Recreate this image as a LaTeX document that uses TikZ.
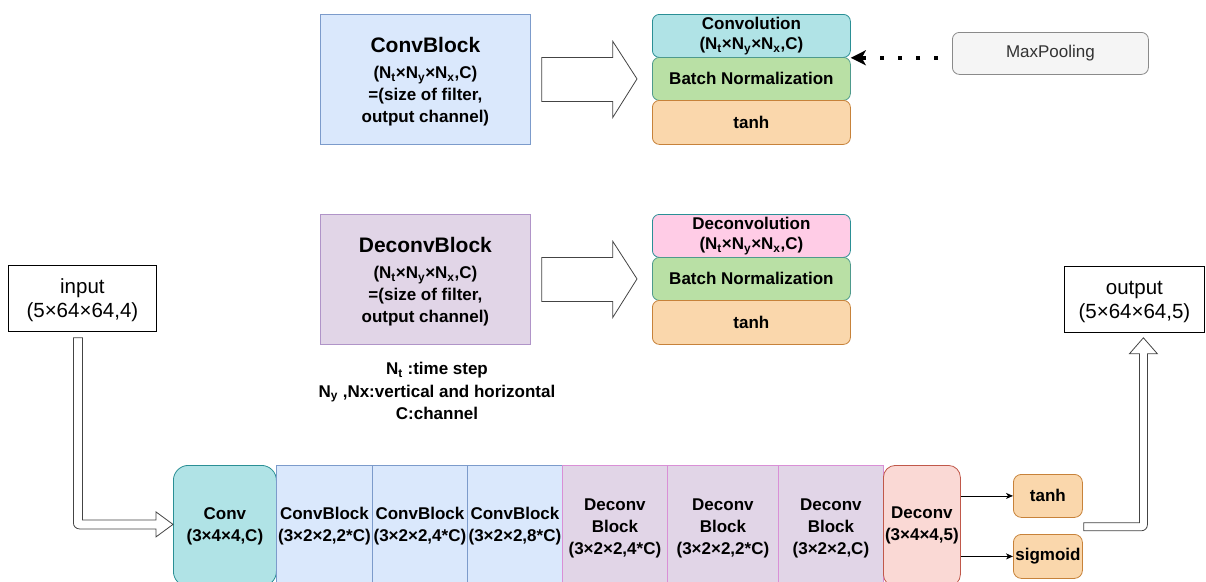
\documentclass[tikz,border=0pt]{standalone}
\usepackage{fontspec}
\setmainfont{Liberation Sans}
\usetikzlibrary{arrows.meta,calc}

\definecolor{blueF}{HTML}{DAE8FC}
\definecolor{blueD}{HTML}{7C9BCB}
\definecolor{purpF}{HTML}{E1D5E7}
\definecolor{purpD}{HTML}{B094C8}
\definecolor{pinkD}{HTML}{D98FD6}
\definecolor{tealF}{HTML}{B0E3E6}
\definecolor{tealD}{HTML}{2A8F95}
\definecolor{greenF}{HTML}{B9E0A5}
\definecolor{greenD}{HTML}{4E9A8C}
\definecolor{orangeF}{HTML}{FAD7AC}
\definecolor{orangeD}{HTML}{C7823A}
\definecolor{roseF}{HTML}{FFCCE6}
\definecolor{redF}{HTML}{FAD9D5}
\definecolor{redD}{HTML}{C0584A}
\definecolor{grayF}{HTML}{F5F5F5}
\definecolor{grayD}{HTML}{8A8A8A}
\definecolor{grayT}{HTML}{333333}
\definecolor{arrowD}{HTML}{444444}

\tikzset{
  box/.style={draw, line width=0.8pt, align=center, inner sep=0pt, anchor=north west,
    font=\bfseries\fontsize{17}{21}\selectfont},
  stackbox/.style={box, rounded corners=7pt, minimum width=198pt, minimum height=43pt,
    font=\bfseries\fontsize{17}{20}\selectfont},
  rowbox/.style={box, minimum height=121pt, font=\bfseries\fontsize{17}{22}\selectfont},
  plainbox/.style={draw=black, line width=0.8pt, align=center, inner sep=0pt, anchor=north west,
    font=\fontsize{20.5}{24}\selectfont},
  hollow/.style={draw=arrowD, fill=white, line width=0.8pt, line join=miter},
  thinarrow/.style={draw=black, line width=0.8pt, -{Stealth[length=7pt,width=6pt,inset=2pt]}},
}

\begin{document}
\begin{tikzpicture}[x=1pt,y=-1pt]
\useasboundingbox (0,0) rectangle (1206,581);
\clip (0,0) rectangle (1206,581);

% ---- ConvBlock definition ----
\node[box, fill=blueF, draw=blueD, minimum width=210pt, minimum height=130pt,
      font=\bfseries\fontsize{17}{22}\selectfont] (cb) at (320,14)
  {{\fontsize{21}{25}\selectfont\rule{0pt}{20pt}ConvBlock}\\[4pt]
   (N\textsubscript{t}×N\textsubscript{y}×N\textsubscript{x},C)\\
   =(size of filter,\\ output channel)};

\node[stackbox, fill=tealF, draw=tealD] (conv1) at (652,14)
  {Convolution\\(N\textsubscript{t}×N\textsubscript{y}×N\textsubscript{x},C)};
\node[stackbox, fill=greenF, draw=greenD] (bn1) at (652,57) {Batch Normalization};
\node[stackbox, fill=orangeF, draw=orangeD, minimum height=44pt] (th1) at (652,100) {tanh};

\draw[hollow] ($(cb.east)+(11,-22)$) -- ($(cb.east)+(82,-22)$) -- ($(cb.east)+(82,-38)$)
  -- ($(bn1.west)+(-15,0)$) -- ($(cb.east)+(82,38)$) -- ($(cb.east)+(82,22)$)
  -- ($(cb.east)+(11,22)$) -- cycle;

% ---- MaxPooling ----
\node[box, rounded corners=7pt, fill=grayF, draw=grayD, text=grayT, minimum width=196pt,
      minimum height=42pt, font=\fontsize{17}{20}\selectfont] (mp) at (952,32) {MaxPooling};
\draw[line width=4pt, dash pattern=on 4pt off 14pt,
      -{Stealth[length=15pt,width=15pt,inset=4pt]}]
  ($(mp.west |- conv1.south east)+(-14,0)$) -- (conv1.south east);

% ---- DeconvBlock definition ----
\node[box, fill=purpF, draw=purpD, minimum width=210pt, minimum height=130pt,
      font=\bfseries\fontsize{17}{22}\selectfont] (dcb) at (320,214)
  {{\fontsize{21}{25}\selectfont\rule{0pt}{20pt}DeconvBlock}\\[4pt]
   (N\textsubscript{t}×N\textsubscript{y}×N\textsubscript{x},C)\\
   =(size of filter,\\ output channel)};

\node[stackbox, fill=roseF, draw=tealD] (dconv2) at (652,214)
  {Deconvolution\\(N\textsubscript{t}×N\textsubscript{y}×N\textsubscript{x},C)};
\node[stackbox, fill=greenF, draw=greenD] (bn2) at (652,257) {Batch Normalization};
\node[stackbox, fill=orangeF, draw=orangeD, minimum height=44pt] (th2) at (652,300) {tanh};

\draw[hollow] ($(dcb.east)+(11,-22)$) -- ($(dcb.east)+(82,-22)$) -- ($(dcb.east)+(82,-38)$)
  -- ($(bn2.west)+(-15,0)$) -- ($(dcb.east)+(82,38)$) -- ($(dcb.east)+(82,22)$)
  -- ($(dcb.east)+(11,22)$) -- cycle;

% ---- legend ----
\node[align=center, inner sep=0pt, font=\bfseries\fontsize{17}{22.5}\selectfont] (legend) at (437,391)
  {N\textsubscript{t} :time step\\
   N\textsubscript{y} ,Nx:vertical and horizontal\\
   C:channel};

% ---- input / output ----
\node[plainbox, minimum width=148pt, minimum height=66pt] (in) at (8,265)
  {\rule{0pt}{18pt}input\\(5×64×64,4)};
\node[plainbox, minimum width=140pt, minimum height=66pt] (out) at (1064,266)
  {\rule{0pt}{18pt}output\\(5×64×64,5)};

% ---- network row ----
\node[rowbox, rounded corners=15pt, fill=tealF, draw=tealD, minimum width=103pt] (conv) at (173,465)
  {Conv\\(3×4×4,C)};
\node[rowbox, fill=blueF, draw=blueD, minimum width=96pt] (b1) at (276,465)
  {ConvBlock\\(3×2×2,2*C)};
\node[rowbox, fill=blueF, draw=blueD, minimum width=95pt] (b2) at (372,465)
  {ConvBlock\\(3×2×2,4*C)};
\node[rowbox, fill=blueF, draw=blueD, minimum width=95pt] (b3) at (467,465)
  {ConvBlock\\(3×2×2,8*C)};
\node[rowbox, fill=purpF, draw=pinkD, minimum width=105pt] (d1) at (562,465)
  {\rule{0pt}{17pt}Deconv\\Block\\(3×2×2,4*C)};
\node[rowbox, fill=purpF, draw=pinkD, minimum width=111pt] (d2) at (667,465)
  {\rule{0pt}{17pt}Deconv\\Block\\(3×2×2,2*C)};
\node[rowbox, fill=purpF, draw=pinkD, minimum width=105pt] (d3) at (778,465)
  {\rule{0pt}{17pt}Deconv\\Block\\(3×2×2,C)};
\node[rowbox, rounded corners=12pt, fill=redF, draw=redD, minimum width=77pt] (dc) at (883,465)
  {Deconv\\(3×4×4,5)};

% ---- activations ----
\node[box, rounded corners=8pt, fill=orangeF, draw=orangeD, minimum width=69pt, minimum height=43pt]
  (ts) at (1013,474) {tanh};
\node[box, rounded corners=8pt, fill=orangeF, draw=orangeD, minimum width=69pt, minimum height=44pt]
  (sg) at (1013,534) {sigmoid};
\draw[thinarrow] (dc.east |- ts.west) -- (ts.west);
\draw[thinarrow] (dc.east |- sg.west) -- (sg.west);

% ---- input flow into the first layer ----
\coordinate (i1) at ($(in.south)+(-9,6)$);
\coordinate (i2) at ($(in.south)+(0,6)$);
\coordinate (hT) at ($(conv.west)+(-17,-6)$);
\coordinate (hB) at ($(conv.west)+(-17,3)$);
\draw[hollow] (i1) -- (i2) -- (i2 |- hT) -- (hT) -- ($(conv.west)+(-17,-14)$) -- ($(conv.west)+(0,-1.5)$)
  -- ($(conv.west)+(-17,11)$) -- (hB) -- ($(i1 |- hB)+(6,0)$)
  arc[start angle=90, end angle=180, radius=6] -- cycle;

% ---- output flow ----
\coordinate (o1) at ($(ts.south east)+(1,5)$);
\coordinate (o2) at ($(ts.south east)+(1,13)$);
\coordinate (oL) at ($(out.south)+(5,21)$);
\coordinate (oR) at ($(out.south)+(13,21)$);
\draw[hollow] (o1) -- (o1 -| oL) -- (oL) -- ($(out.south)+(-5,21)$) -- ($(out.south)+(9,5)$)
  -- ($(out.south)+(23,21)$) -- (oR) -- ($(oR |- o2)+(0,-6)$)
  arc[start angle=0, end angle=90, radius=6] -- (o2) -- cycle;

\end{tikzpicture}
\end{document}
